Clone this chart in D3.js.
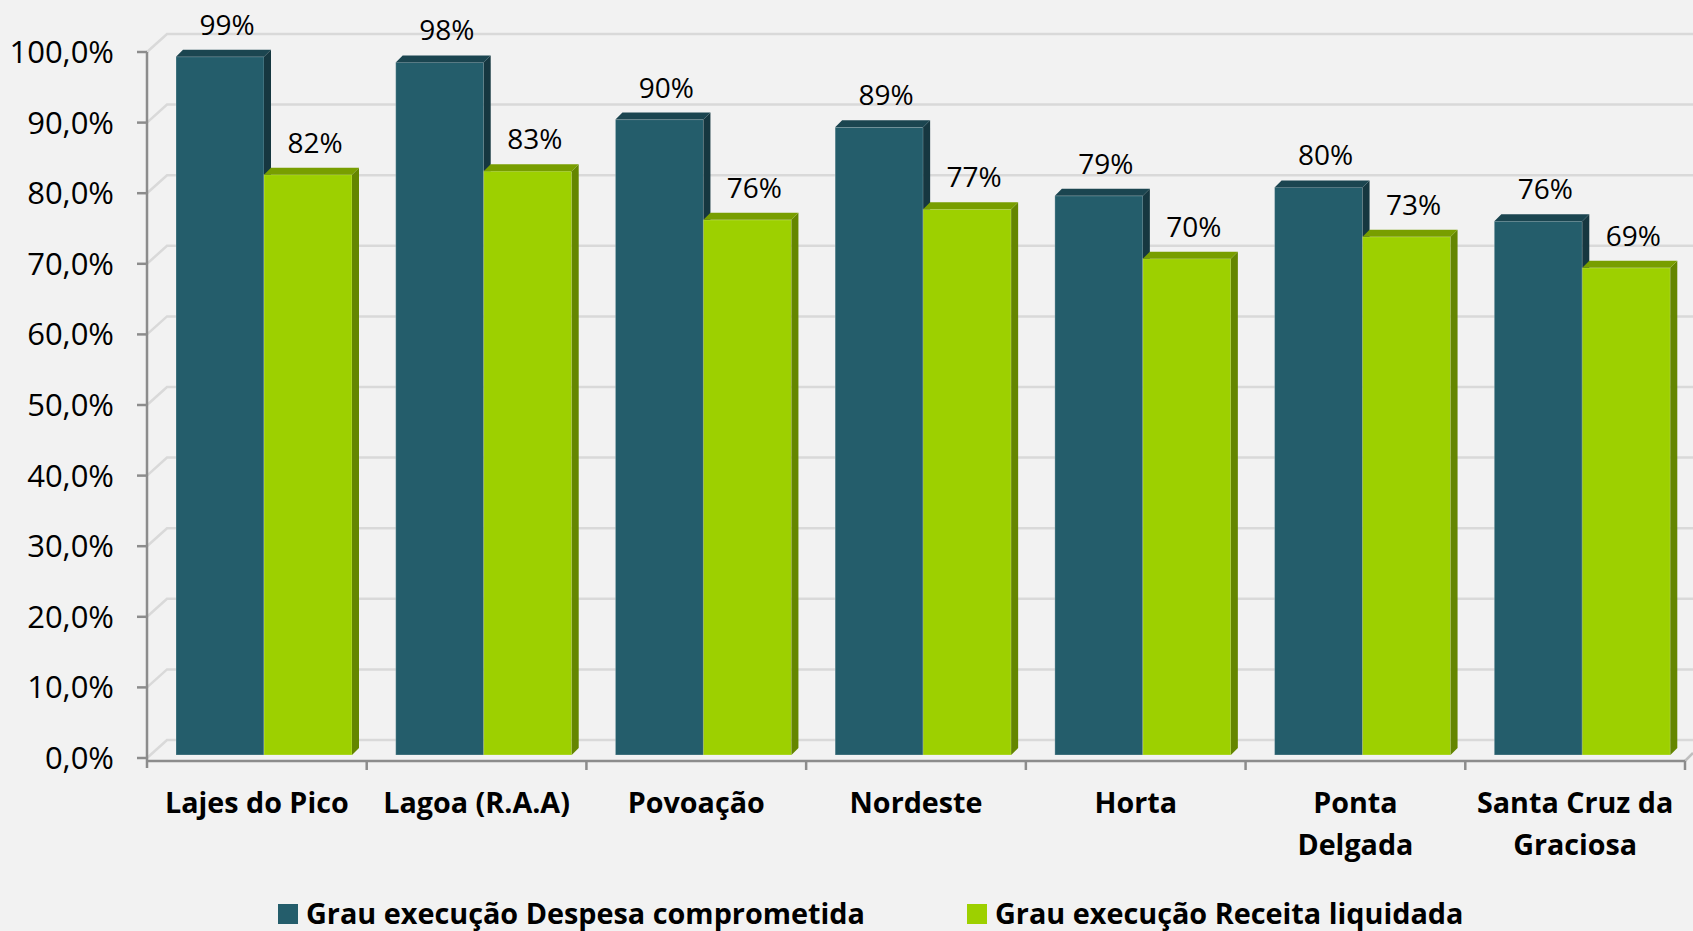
<!DOCTYPE html>
<html>
<head>
<meta charset="utf-8">
<script src="https://cdn.jsdelivr.net/npm/d3@7"></script>
<style>
  html, body { margin: 0; padding: 0; background: #f2f2f2; }
  svg { display: block; }
</style>
</head>
<body>
<svg id="chart" width="1693" height="931"></svg>
<script>
// ---- Data ----
const categories = ["Lajes do Pico", "Lagoa (R.A.A)", "Povoação", "Nordeste", "Horta", "Ponta Delgada", "Santa Cruz da Graciosa"];
const categoryLines = [["Lajes do Pico"], ["Lagoa (R.A.A)"], ["Povoação"], ["Nordeste"], ["Horta"], ["Ponta", "Delgada"], ["Santa Cruz da", "Graciosa"]];
const seriesNames = ["Grau execução Despesa comprometida", "Grau execução Receita liquidada"];
const despesa = [98.9, 98.1, 90.0, 88.9, 79.2, 80.4, 75.6];
const receita = [82.2, 82.7, 75.8, 77.3, 70.3, 73.4, 69.0];
const yTicks = [0, 10, 20, 30, 40, 50, 60, 70, 80, 90, 100];
const seriesColors = [
  { front: "#245d6b", top: "#1b4550", side: "#163740" },
  { front: "#9dd000", top: "#789e00", side: "#648600" }
];

// ---- Layout ----
const svg = d3.select("#chart");
const W = 1693, H = 931;
const axisX = 147, axisRight = 1685;
const backDx = 20, backDy = 18;      // depth of the back wall
const barShift = 3;                  // bar front plane behind axis plane
const barDx = 7, barDy = 7;          // bar depth

const x = d3.scaleBand().domain(categories).range([axisX, axisRight]).padding(0);
const inner = d3.scaleBand().domain([0, 1]).range([29, 205]).padding(0);
const y = d3.scaleLinear().domain([0, 100]).range([758, 52]);

const fmtTick = v => d3.format(".1f")(v).replace(".", ",") + "%";
const fmtLabel = v => d3.format(".0f")(v) + "%";

svg.append("rect").attr("width", W).attr("height", H).attr("fill", "#f2f2f2");

// ---- Gridlines (back wall) ----
const grid = svg.append("g").attr("fill", "none").attr("stroke", "#d9d9d9").attr("stroke-width", 2.5);
yTicks.forEach(t => {
  grid.append("path")
    .attr("d", `M${axisX},${y(t)} L${axisX + backDx},${y(t) - backDy} L${W},${y(t) - backDy}`);
});
// floor right edge
grid.append("path").attr("d", `M${axisRight},${y(0) + 3} L${W},${y(0) + 3 - 8}`).attr("stroke", "#bfbfbf");

// ---- Bars ----
const seriesData = [despesa, receita];
const barsG = svg.append("g");
categories.forEach((c, i) => {
  [0, 1].forEach(s => {
    const v = seriesData[s][i];
    const x0 = x(c) + inner(s);
    const w = inner.bandwidth();
    const yt = y(v) - barShift;
    const yb = y(0) - barShift;
    const col = seriesColors[s];
    const g = barsG.append("g");
    g.append("rect").attr("x", x0).attr("y", yt).attr("width", w).attr("height", yb - yt)
      .attr("fill", col.front).attr("stroke", "rgba(255,255,255,0.25)").attr("stroke-width", 1);
    g.append("path")
      .attr("d", `M${x0 + w},${yt} L${x0 + w + barDx},${yt - barDy} L${x0 + w + barDx},${yb - barDy} L${x0 + w},${yb} Z`)
      .attr("fill", col.side);
    g.append("path")
      .attr("d", `M${x0},${yt} L${x0 + barDx},${yt - barDy} L${x0 + w + barDx},${yt - barDy} L${x0 + w},${yt} Z`)
      .attr("fill", col.top);
  });
});

// ---- Data labels ----
const labG = svg.append("g")
  .attr("font-family", "'Open Sans', sans-serif").attr("font-size", 28).attr("fill", "#000")
  .attr("text-anchor", "middle");
categories.forEach((c, i) => {
  [0, 1].forEach(s => {
    const v = seriesData[s][i];
    const cx = x(c) + inner(s) + inner.bandwidth() / 2 + 7;
    labG.append("text").attr("x", cx).attr("y", y(v) - barShift - 22).text(fmtLabel(v));
  });
});

// ---- Axes ----
const axisCol = "#8c8c8c";
const ax = svg.append("g").attr("stroke", axisCol).attr("stroke-width", 2.5).attr("fill", "none");
ax.append("line").attr("x1", axisX).attr("x2", axisX).attr("y1", y(100)).attr("y2", 768);
ax.append("line").attr("x1", axisX).attr("x2", axisRight).attr("y1", 761).attr("y2", 761);
yTicks.forEach(t => {
  ax.append("line").attr("x1", axisX - 10).attr("x2", axisX).attr("y1", y(t)).attr("y2", y(t));
});
categories.forEach(c => {
  const xe = x(c) + x.bandwidth();
  ax.append("line").attr("x1", xe).attr("x2", xe).attr("y1", 761).attr("y2", 770);
});

// y tick labels
const yl = svg.append("g").attr("font-family", "'Open Sans', sans-serif").attr("font-size", 31)
  .attr("fill", "#000").attr("text-anchor", "end");
yTicks.forEach(t => {
  yl.append("text").attr("x", 114).attr("y", y(t) + 11).text(fmtTick(t));
});

// category labels
const cl = svg.append("g").attr("font-family", "'Open Sans', sans-serif").attr("font-weight", "bold")
  .attr("font-size", 28.7).attr("fill", "#000").attr("text-anchor", "middle");
categories.forEach((c, i) => {
  categoryLines[i].forEach((line, k) => {
    cl.append("text").attr("x", x(c) + x.bandwidth() / 2).attr("y", 813 + k * 42).text(line);
  });
});

// ---- Legend ----
const legendPos = [278, 967];
const lg = svg.append("g").attr("font-family", "'Open Sans', sans-serif").attr("font-weight", "bold")
  .attr("font-size", 28.8).attr("fill", "#000");
seriesNames.forEach((n, s) => {
  lg.append("rect").attr("x", legendPos[s]).attr("y", 904).attr("width", 20).attr("height", 20)
    .attr("fill", seriesColors[s].front);
  lg.append("text").attr("x", legendPos[s] + 28).attr("y", 924).text(n);
});
</script>
</body>
</html>
